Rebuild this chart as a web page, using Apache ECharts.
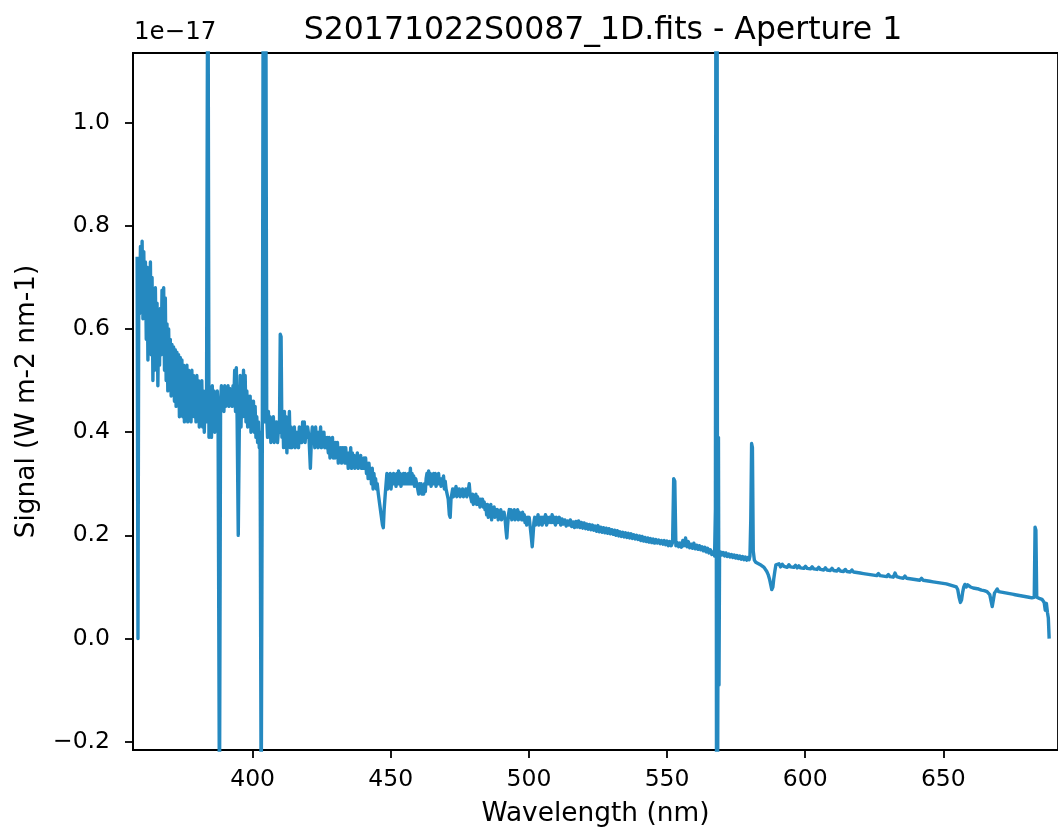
<!DOCTYPE html>
<html>
<head>
<meta charset="utf-8">
<script src="https://cdn.jsdelivr.net/npm/echarts@6/dist/echarts.min.js"></script>
<style>
html,body{margin:0;padding:0;background:#fff;}
#chart{width:1058px;height:832px;}
</style>
</head>
<body>
<div id="chart"></div>
<script>
const chartTitle = 'S20171022S0087_1D.fits - Aperture 1';
const xAxisName = 'Wavelength (nm)';
const yAxisName = 'Signal (W m-2 nm-1)';
const yScaleText = '1e\u221217';

const xTickValues = [400, 450, 500, 550, 600, 650];
const yTickValues = [-0.2, 0.0, 0.2, 0.4, 0.6, 0.8, 1.0];

// [wavelength nm, signal in units of 1e-17 W m-2 nm-1]
const uvRegion = [
[358.2,0.74],[358.5,0.0],[358.8,0.72],[359.1,0.63],[359.4,0.76],[359.7,0.66],[360.0,0.77],[360.3,0.62],[360.6,0.75],[360.9,0.64],
[361.2,0.73],[361.5,0.58],[361.8,0.72],[362.1,0.54],[362.4,0.70],[362.7,0.60],[363.0,0.73],[363.3,0.55],
[363.6,0.70],[363.9,0.50],[364.2,0.66],[364.5,0.52],
[364.8,0.68],[365.1,0.55],[365.4,0.65],[365.7,0.49],[366.0,0.62],
[366.3,0.53],[366.6,0.64],[366.9,0.55],
[367.2,0.675],[367.5,0.58],[367.8,0.68],[368.1,0.52],[368.4,0.66],[368.7,0.50],
[369.0,0.61],[369.3,0.48],[369.6,0.60],[369.9,0.50],[370.2,0.58],[370.5,0.47],[370.8,0.57],
[371.1,0.49],[371.4,0.565],[371.7,0.46],[372.0,0.56],[372.3,0.45],[372.6,0.555],[372.9,0.47],[373.2,0.55],[373.5,0.43],[373.8,0.545],[374.1,0.44],[374.4,0.54],
[374.7,0.43],[375.0,0.53],[375.3,0.42],[375.6,0.525],[375.9,0.45],[376.2,0.53],[376.5,0.42],[376.8,0.52],[377.1,0.44],[377.4,0.515],[377.7,0.42],[378.0,0.52],[378.3,0.45],[378.6,0.51],[378.9,0.43],[379.2,0.505],
[379.5,0.42],[379.8,0.51],[380.1,0.44],[380.4,0.50],[380.7,0.41],[381.0,0.49],[381.3,0.43],[381.6,0.50],
[381.9,0.41],[382.2,0.48],[382.5,0.40],[382.8,0.47],[383.3,0.42],[383.8,1.5],[384.2,0.39],
[384.5,0.40],[384.8,0.48],[385.1,0.39],[385.4,0.49],[385.7,0.42],[386.0,0.48],[386.3,0.40],[386.6,0.47],[386.9,0.41],[387.2,0.48],[387.5,0.42],[388.0,-0.35],
[388.4,0.46],[388.7,0.49],[389.0,0.45],[389.3,0.485],[389.6,0.44],[389.9,0.49],[390.2,0.45],[390.5,0.48],[390.8,0.46],[391.1,0.49],[391.4,0.45],[391.7,0.485],[392.0,0.46],[392.3,0.48],[392.6,0.45],[392.9,0.49],[393.2,0.46],
[393.5,0.52],[393.8,0.44],[394.1,0.525],[394.4,0.42],[394.8,0.20],[395.2,0.42],[395.5,0.51],[395.8,0.41],
[396.1,0.50],[396.4,0.43],[396.7,0.52],[397.0,0.44],[397.3,0.51],
[397.6,0.42],[397.9,0.48],[398.2,0.41],[398.5,0.47],[398.8,0.42],[399.1,0.47],[399.4,0.40],[399.7,0.46]
];

const blueRegion = [
[400.0,0.41],[400.3,0.46],[400.6,0.40],[400.9,0.45],[401.2,0.39],[401.5,0.43],[401.8,0.38],[402.1,0.42],[402.4,0.37],[402.7,0.40],
[403.1,-0.35],[403.5,0.38],[403.9,1.5],[404.3,0.42],[404.7,1.5],[405.1,0.43],
[405.4,0.39],[405.7,0.44],[406.0,0.40],
[406.3,0.43],[406.6,0.38],[406.9,0.42],[407.2,0.39],[407.5,0.43],[407.8,0.38],[408.1,0.42],[408.4,0.39],[408.7,0.42],[409.0,0.38],[409.4,0.41],
[409.7,0.40],[410.0,0.59],[410.3,0.585],[410.6,0.39],
[410.9,0.43],[411.2,0.37],[411.5,0.44],[411.8,0.38],[412.1,0.43],[412.4,0.36],[412.7,0.42],[413.0,0.38],[413.3,0.44],[413.6,0.37],
[413.9,0.41],[414.2,0.37],[414.5,0.40],[414.8,0.38],[415.1,0.41],[415.4,0.37],[415.7,0.40],[416.0,0.38],[416.3,0.40],[416.6,0.37],[416.9,0.41],[417.2,0.38],[417.5,0.40],
[417.8,0.38],[418.1,0.42],[418.4,0.39],[418.7,0.42],[419.0,0.38],[419.3,0.41],[419.6,0.39],[419.9,0.41],
[420.4,0.39],[420.9,0.33],[421.3,0.39],
[421.6,0.41],[421.9,0.38],[422.2,0.40],[422.5,0.37],[422.8,0.41],[423.1,0.38],[423.4,0.40],[423.7,0.37],[424.0,0.40],[424.3,0.38],[424.6,0.41],[424.9,0.37],[425.2,0.40],[425.5,0.38],[425.8,0.40],[426.1,0.37],[426.4,0.39],[426.7,0.37],[427.0,0.39],
[427.4,0.36],[427.7,0.39],[428.0,0.35],[428.3,0.38],[428.6,0.36],[428.9,0.39],[429.2,0.35],[429.5,0.38],[429.8,0.35],[430.1,0.38],[430.4,0.36],[430.7,0.38],[431.0,0.34],[431.3,0.37],[431.6,0.35],[431.9,0.37],[432.2,0.34],[432.5,0.37],[432.8,0.35],[433.1,0.37],[433.4,0.34],
[433.7,0.37],[434.0,0.34],[434.3,0.36],[434.6,0.33],[434.9,0.36],[435.2,0.34],[435.5,0.37],
[435.8,0.33],[436.1,0.36],[436.4,0.34],[436.7,0.355],[437.0,0.33],[437.3,0.35],[437.6,0.34],[437.9,0.36],[438.2,0.33],[438.5,0.35],[438.8,0.34],[439.1,0.355],[439.4,0.33],[439.7,0.345],[440.0,0.33],[440.3,0.35],[440.6,0.33],
[440.9,0.35],[441.2,0.32],[441.5,0.34],[441.8,0.31],[442.1,0.34],[442.4,0.32],[442.7,0.33],
[443.0,0.30],[443.3,0.33],[443.6,0.29],[443.9,0.32],[444.2,0.30],[444.5,0.31],[444.8,0.29],[445.1,0.30],
[445.5,0.28],[446.0,0.26],[446.5,0.24],[447.0,0.22],[447.3,0.215],[447.6,0.25],[448.0,0.28],
[448.3,0.30],[448.6,0.32],[448.9,0.29],[449.2,0.31],[449.5,0.30],[449.8,0.32]
];

const greenRegion = [
[450.1,0.29],[450.4,0.31],[450.7,0.30],[451.0,0.32],[451.3,0.30],[451.6,0.315],[451.9,0.295],[452.2,0.32],[452.5,0.30],
[452.8,0.325],[453.1,0.30],[453.4,0.32],[453.7,0.295],[454.0,0.315],[454.3,0.30],[454.6,0.32],[454.9,0.30],[455.2,0.32],[455.5,0.30],[455.8,0.315],[456.1,0.30],[456.4,0.32],[456.8,0.30],[457.1,0.33],[457.4,0.30],[457.7,0.32],[458.0,0.30],[458.3,0.315],[458.6,0.295],[459.0,0.31],[459.4,0.30],
[459.8,0.30],[460.1,0.28],[460.4,0.30],[460.7,0.285],[461.0,0.30],[461.3,0.28],[461.6,0.29],[461.9,0.28],[462.2,0.30],[462.5,0.285],
[462.8,0.31],[463.1,0.32],[463.4,0.30],[463.7,0.325],[464.0,0.30],[464.3,0.32],[464.6,0.295],[464.9,0.315],[465.2,0.30],[465.5,0.32],[465.8,0.30],[466.1,0.32],[466.4,0.295],[466.7,0.315],[467.0,0.30],[467.3,0.32],[467.6,0.30],[467.9,0.31],[468.2,0.295],[468.5,0.31],[468.8,0.30],[469.1,0.315],[469.4,0.29],[469.7,0.305],
[470.0,0.29],[470.4,0.28],[470.8,0.27],[471.2,0.24],[471.5,0.235],[471.8,0.27],[472.1,0.28],
[472.4,0.29],[472.7,0.275],[473.0,0.29],[473.3,0.28],[473.6,0.295],[473.9,0.275],[474.2,0.29],[474.5,0.28],[474.8,0.29],[475.1,0.275],[475.4,0.285],[475.7,0.28],[476.0,0.29],[476.3,0.275],[476.6,0.285],[476.9,0.28],[477.2,0.29],[477.5,0.275],
[478.0,0.285],[478.4,0.30],[478.7,0.28],
[479.0,0.28],[479.3,0.265],[479.6,0.28],[479.9,0.26],[480.2,0.275],[480.5,0.265],[480.8,0.28],[481.1,0.26],[481.4,0.275],[481.7,0.26],[482.0,0.27],[482.3,0.255],[482.6,0.27],[482.9,0.26],[483.2,0.27],[483.5,0.255],[483.8,0.265],
[484.1,0.25],[484.4,0.26],[484.7,0.24],[485.0,0.26],[485.3,0.235],[485.6,0.255],[485.9,0.24],[486.2,0.26],[486.5,0.23],[486.8,0.25],[487.1,0.24],[487.4,0.255],[487.7,0.235],[488.0,0.25],[488.3,0.24],[488.6,0.25],[488.9,0.23],[489.2,0.245],[489.5,0.235],[489.8,0.25],[490.1,0.23],[490.4,0.245],[490.7,0.235],[491.0,0.245],
[491.4,0.23],[491.7,0.21],[492.0,0.195],[492.3,0.22],[492.6,0.24],
[492.9,0.25],[493.2,0.235],[493.5,0.25],[493.8,0.23],[494.1,0.245],[494.4,0.235],[494.7,0.25],[495.0,0.23],[495.3,0.245],[495.6,0.235],[495.9,0.25],[496.2,0.23],[496.5,0.245],[496.8,0.235],[497.1,0.24],[497.4,0.23],[497.7,0.245],[498.0,0.23],[498.3,0.24],
[498.6,0.225],[498.9,0.235],[499.2,0.22],[499.5,0.235],[499.8,0.225],[500.1,0.235],[500.4,0.22],
[500.8,0.20],[501.2,0.178],[501.5,0.20],[501.8,0.225],
[502.1,0.235],[502.4,0.22],[502.7,0.235],[503.0,0.225],[503.3,0.24],[503.6,0.22],[503.9,0.235],[504.2,0.225],[504.5,0.235],[504.8,0.22],[505.2,0.235],[505.6,0.225],[506.0,0.24],[506.4,0.22],[506.8,0.235],[507.2,0.225],[507.6,0.235],[508.0,0.225],[508.4,0.24],[508.8,0.225],[509.2,0.235],[509.6,0.22],[510.0,0.235]
];

const yellowRegion = [
[510.5,0.225],[511.0,0.235],[511.5,0.22],[512.0,0.232],[512.5,0.222],[513.0,0.23],[513.5,0.218],[514.0,0.228],[514.5,0.22],[515.0,0.23],[515.5,0.217],[516.0,0.226],[516.5,0.215],[517.0,0.227],[517.5,0.216],[518.0,0.228],[518.5,0.215],
[519.0,0.225],[519.5,0.214],[520.0,0.224],[520.5,0.213],[521.0,0.222],[521.5,0.212],[522.0,0.221],[522.5,0.211],[523.0,0.22],[523.5,0.21],[524.0,0.218],[524.5,0.208],[525.0,0.219],[525.5,0.207],[526.0,0.216],[526.5,0.206],[527.0,0.215],[527.5,0.205],[528.0,0.214],[528.5,0.204],[529.0,0.213],[529.5,0.203],[530.0,0.211],[530.5,0.202],
[531.0,0.21],[531.5,0.2],[532.0,0.209],[532.5,0.199],[533.0,0.207],[533.5,0.198],[534.0,0.206],[534.5,0.197],[535.0,0.205],[535.5,0.196],[536.0,0.204],[536.5,0.195],[537.0,0.203],[537.5,0.194],[538.0,0.201],[538.5,0.193],[539.0,0.2],[539.5,0.192],[540.0,0.199],[540.5,0.19],[541.0,0.198],[541.5,0.189],[542.0,0.196],[542.5,0.188],
[543.0,0.195],[543.5,0.187],[544.0,0.194],[544.5,0.186],[545.0,0.193],[545.5,0.185],[546.0,0.192],[546.5,0.185],[547.0,0.191],[547.5,0.184],[548.0,0.19],[548.5,0.183],[549.0,0.19],[549.5,0.182],[550.0,0.189],[550.5,0.18],[551.0,0.188],[551.5,0.18],[552.0,0.186],
[552.4,0.31],[552.8,0.305],[553.2,0.18],
[553.7,0.186],[554.2,0.178],[554.7,0.185],[555.2,0.177],[555.7,0.19],[556.2,0.18],[556.7,0.195],[557.2,0.178],[557.7,0.188],[558.2,0.176],[558.7,0.183],[559.2,0.175],[559.7,0.185],[560.2,0.174],[560.7,0.181],[561.2,0.173],[561.7,0.18],[562.2,0.172],[562.7,0.178],[563.2,0.17],[563.7,0.177],[564.2,0.168],[564.7,0.175],[565.2,0.166],[565.7,0.172],[566.2,0.163],[566.7,0.168],[567.2,0.16],
[567.5,0.25],[567.7,1.5],[567.9,-0.3],[568.1,1.5],[568.3,-0.3],[568.6,0.39],[568.8,-0.09],[569.0,0.16],
[569.3,0.168],[569.8,0.162],[570.3,0.167],[570.8,0.16],[571.3,0.166],[571.8,0.159],[572.3,0.164],[572.8,0.158],[573.3,0.163],[573.8,0.157],[574.3,0.162],[574.8,0.156],[575.3,0.161],[575.8,0.155],[576.3,0.16],[576.8,0.154],[577.3,0.159],[577.8,0.153],[578.3,0.158],[578.8,0.152],[579.3,0.157],[579.7,0.153],
[580.0,0.16],[580.3,0.23],[580.6,0.378],[580.9,0.37],[581.2,0.17],
[581.6,0.152],[582.1,0.148],[582.6,0.15],[583.1,0.145],[583.6,0.147],[584.1,0.142],[584.6,0.143],[585.1,0.138],[585.6,0.136],[586.1,0.13],[586.6,0.124],[587.1,0.115],[587.5,0.105],[587.9,0.095],[588.3,0.1],[588.6,0.115],[589.0,0.13],[589.4,0.143]
];

const redRegion = [
[589.9,0.14],[590.5,0.145],[591.1,0.139],[591.7,0.144],[592.3,0.14],[592.9,0.143],[593.5,0.138],[594.1,0.143],[594.7,0.139],[595.3,0.142],[595.9,0.138],[596.5,0.142],[597.1,0.137],[597.7,0.141],[598.3,0.137],[598.9,0.14],[599.5,0.136],[600.1,0.14],[600.7,0.136],[601.3,0.139],[601.9,0.135],[602.5,0.139],[603.1,0.135],[603.7,0.138],[604.3,0.134],[604.9,0.138],[605.5,0.134],[606.1,0.137],[606.7,0.133],[607.3,0.137],[607.9,0.133],[608.5,0.136],[609.1,0.132],[609.7,0.136],[610.3,0.132],[610.9,0.135],[611.5,0.131],[612.1,0.135],[612.7,0.131],[613.3,0.134],[613.9,0.13],[614.5,0.134],[615.1,0.13],[615.7,0.133],[616.3,0.129],[616.9,0.133],[617.5,0.129],[618.1,0.132],
[618.7,0.128],[619.3,0.131],[619.9,0.127],[620.5,0.13],[621.1,0.126],[621.7,0.129],[622.3,0.125],[622.9,0.128],[623.5,0.124],[624.1,0.127],[624.7,0.123],[625.3,0.126],[625.9,0.122],[626.5,0.126],[627.1,0.122],[627.7,0.125],[628.3,0.121],[628.9,0.124],[629.5,0.12],[630.1,0.124],[630.7,0.12],[631.3,0.123],[631.9,0.119],[632.5,0.127],[633.1,0.12],[633.7,0.122],[634.3,0.118],[634.9,0.121],[635.5,0.117],[636.1,0.121],[636.7,0.117],[637.3,0.12],[637.9,0.116],[638.5,0.119],[639.1,0.115],[639.7,0.118],[640.3,0.114],[640.9,0.117],[641.5,0.113],[642.1,0.117],[642.7,0.113],[643.3,0.116],[643.9,0.112],[644.5,0.115],[645.1,0.111],[645.7,0.114],[646.3,0.11],[646.9,0.113],[647.5,0.109],[648.1,0.112],[648.7,0.108],[649.3,0.111],[649.9,0.107],[650.5,0.11],[651.1,0.106],[651.7,0.108],[652.3,0.104],[652.9,0.106],[653.5,0.102],[654.1,0.104],[654.7,0.1],
[655.2,0.095],[655.7,0.08],[656.2,0.07],[656.6,0.075],[657.0,0.09],[657.4,0.1],[657.8,0.105],
[658.3,0.1],[658.8,0.104],[659.3,0.106],[659.8,0.1],[660.3,0.103],[660.8,0.098],[661.3,0.101],[661.8,0.097],[662.3,0.1],[662.8,0.096],[663.3,0.098],[663.8,0.094],[664.3,0.097],[664.8,0.093],[665.3,0.095],[665.8,0.091],[666.3,0.09],[666.8,0.085],[667.3,0.072],[667.7,0.062],[668.1,0.075],[668.5,0.088],[669.0,0.092],
[669.5,0.096],[670.0,0.091],[670.5,0.094],[671.0,0.09],[671.5,0.093],[672.0,0.089],[672.5,0.092],[673.0,0.088],[673.5,0.091],[674.0,0.087],[674.5,0.09],[675.0,0.086],[675.5,0.089],[676.0,0.085],[676.5,0.088],[677.0,0.084],[677.5,0.087],[678.0,0.083],[678.5,0.086],[679.0,0.082],[679.5,0.085],[680.0,0.081],[680.5,0.084],[681.0,0.08],[681.5,0.083],[682.0,0.079],[682.5,0.082],
[682.9,0.08],[683.2,0.216],[683.5,0.21],[683.8,0.08],
[684.2,0.082],[684.7,0.078],[685.2,0.08],[685.7,0.076],[686.1,0.078],[686.5,0.07],[686.9,0.055],[687.3,0.068],[687.7,0.05],[688.0,0.04],[688.3,0.0]
];

const spectrum = [].concat(uvRegion, blueRegion, greenRegion, yellowRegion, redRegion);

const FONT = 'DejaVu Sans';
const INK = '#000000';
const LINE_COLOR = '#2589c0';

const chart = echarts.init(document.getElementById('chart'), null, { renderer: 'canvas' });
chart.setOption({
  animation: false,
  backgroundColor: '#ffffff',
  title: {
    text: chartTitle,
    left: 598,
    top: 10,
    textAlign: 'center',
    textStyle: { fontFamily: FONT, fontSize: 31.5, fontWeight: 'normal', color: INK }
  },
  graphic: [{
    type: 'text',
    left: 134,
    top: 20,
    style: { text: yScaleText, font: '24.5px "DejaVu Sans"', fill: INK }
  }],
  grid: {
    left: 133, top: 53, right: -5, bottom: 81,
    show: true, borderColor: INK, borderWidth: 1.8, containLabel: false
  },
  xAxis: {
    type: 'value',
    min: 356.7,
    max: 691.5,
    name: xAxisName,
    nameLocation: 'middle',
    nameGap: 51,
    nameTextStyle: { fontFamily: FONT, fontSize: 26.4, color: INK },
    axisLine: { show: true, onZero: false, lineStyle: { color: INK, width: 1.8 } },
    axisTick: { show: true, length: 8, lineStyle: { color: INK, width: 1.8 }, customValues: xTickValues },
    axisLabel: { fontFamily: FONT, fontSize: 23.5, color: INK, margin: 18, customValues: xTickValues,
                 formatter: v => String(v) },
    splitLine: { show: false }
  },
  yAxis: {
    type: 'value',
    min: -0.216,
    max: 1.135,
    name: yAxisName,
    nameLocation: 'middle',
    nameRotate: 90,
    nameGap: 93,
    nameTextStyle: { fontFamily: FONT, fontSize: 26.4, color: INK },
    axisLine: { show: true, onZero: false, lineStyle: { color: INK, width: 1.8 } },
    axisTick: { show: true, length: 8, lineStyle: { color: INK, width: 1.8 }, customValues: yTickValues },
    axisLabel: { fontFamily: FONT, fontSize: 23.5, color: INK, margin: 23, customValues: yTickValues,
                 formatter: v => v.toFixed(1).replace('-', '\u2212') },
    splitLine: { show: false }
  },
  series: [{
    type: 'line',
    data: spectrum,
    showSymbol: false,
    symbol: 'none',
    sampling: null,
    clip: true,
    lineStyle: { color: LINE_COLOR, width: 3.4, join: 'round', cap: 'butt' },
    itemStyle: { color: LINE_COLOR }
  }]
});
</script>
</body>
</html>
